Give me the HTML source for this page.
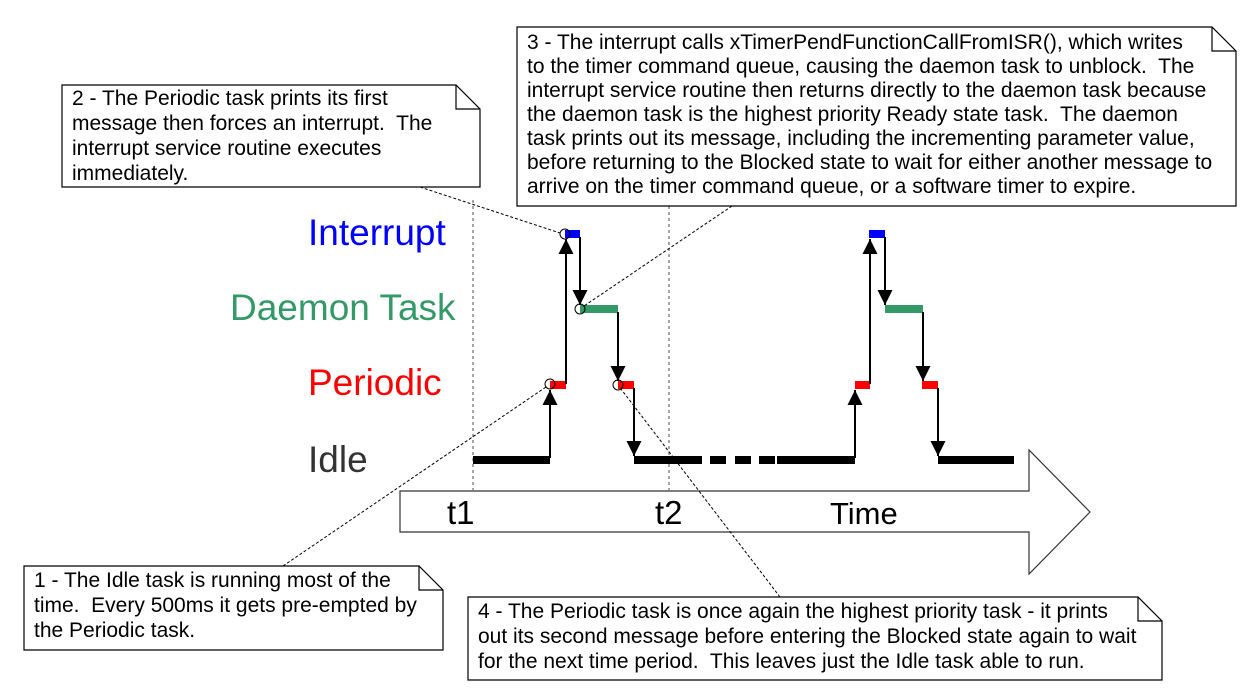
<!DOCTYPE html>
<html><head><meta charset="utf-8"><style>
html,body{margin:0;padding:0;background:#fff;}
svg{display:block;font-family:"Liberation Sans",Arial,sans-serif;}
.c{font-size:21px;fill:#000;}
</style></head><body>
<svg width="1259" height="696" viewBox="0 0 1259 696" xmlns="http://www.w3.org/2000/svg">
<defs>
<marker id="ah" viewBox="0 0 10 10" refX="10" refY="5" markerWidth="17" markerHeight="15" markerUnits="userSpaceOnUse" orient="auto">
<path d="M0,0 L10,5 L0,10 Z" fill="#000"/></marker>
</defs>
<line x1="473" y1="200" x2="473" y2="490" stroke="#888" stroke-width="1.5" stroke-dasharray="3,3"/>
<line x1="669" y1="200" x2="669" y2="490" stroke="#888" stroke-width="1.5" stroke-dasharray="3,3"/>
<path d="M400,491 L1029,491 L1029,450 L1090,512 L1029,574 L1029,532 L400,532 Z" fill="#fff" stroke="#333" stroke-width="1.2"/>
<text x="447" y="524" font-size="33">t1</text>
<text x="655" y="524" font-size="33">t2</text>
<text x="830" y="524" font-size="31">Time</text>
<text x="308" y="245" font-size="37" fill="#0000ff">Interrupt</text>
<text x="230" y="320" font-size="37" fill="#339966">Daemon Task</text>
<text x="308" y="395" font-size="37" fill="#ff0000">Periodic</text>
<text x="308" y="472" font-size="37" fill="#333">Idle</text>
<g>
<rect x="473" y="456" width="77" height="8" fill="#000"/>
<rect x="634" y="456" width="68" height="8" fill="#000"/>
<rect x="710" y="456" width="16" height="8" fill="#000"/>
<rect x="735" y="456" width="16" height="8" fill="#000"/>
<rect x="759" y="456" width="16" height="8" fill="#000"/>
<rect x="777" y="456" width="78" height="8" fill="#000"/>
<rect x="938" y="456" width="76" height="8" fill="#000"/>
<rect x="550" y="381" width="16" height="8" fill="#ff0000"/>
<rect x="618" y="381" width="16" height="8" fill="#ff0000"/>
<rect x="855" y="381" width="15" height="8" fill="#ff0000"/>
<rect x="922" y="381" width="16" height="8" fill="#ff0000"/>
<rect x="565" y="230" width="15" height="8" fill="#0000ff"/>
<rect x="869" y="230" width="16" height="8" fill="#0000ff"/>
<rect x="580" y="305" width="38" height="8" fill="#339966"/>
<rect x="885" y="305" width="38" height="8" fill="#339966"/>
</g>
<g stroke="#000" stroke-width="2" marker-end="url(#ah)">
<line x1="550" y1="458" x2="550" y2="390"/>
<line x1="566" y1="384" x2="566" y2="239"/>
<line x1="580" y1="237" x2="580" y2="305"/>
<line x1="618" y1="312" x2="618" y2="381"/>
<line x1="634" y1="388" x2="634" y2="456"/>
<line x1="855" y1="458" x2="855" y2="390"/>
<line x1="870" y1="384" x2="870" y2="239"/>
<line x1="885" y1="237" x2="885" y2="305"/>
<line x1="923" y1="312" x2="923" y2="381"/>
<line x1="938" y1="388" x2="938" y2="456"/>
</g>
<g fill="none" stroke="#000" stroke-width="1">
<circle cx="550" cy="384" r="5"/><circle cx="565" cy="234" r="5"/>
<circle cx="580" cy="309" r="5"/><circle cx="618" cy="385" r="5"/>
</g>
<g stroke="#000" stroke-width="1" stroke-dasharray="3,2">
<line x1="283" y1="566" x2="546" y2="387"/>
<line x1="420" y1="187" x2="560" y2="233"/>
<line x1="732" y1="206" x2="584" y2="306"/>
<line x1="780" y1="597" x2="621" y2="389"/>
</g>
<g fill="#fff" stroke="#000" stroke-width="1.2">
<path d="M62,85 L456,85 L480,109 L480,187 L62,187 Z"/>
<path d="M456,85 L456,109 L480,109" fill="none"/>
<path d="M517,27 L1212,27 L1236,51 L1236,206 L517,206 Z"/>
<path d="M1212,27 L1212,51 L1236,51" fill="none"/>
<path d="M24,566 L419,566 L443,590 L443,650 L24,650 Z"/>
<path d="M419,566 L419,590 L443,590" fill="none"/>
<path d="M468,597 L1138,597 L1162,621 L1162,680 L468,680 Z"/>
<path d="M1138,597 L1138,621 L1162,621" fill="none"/>
</g>
<g class="c">
<text x="72" y="105">2 - The Periodic task prints its first</text>
<text x="72" y="130">message then forces an interrupt.&#160; The</text>
<text x="72" y="155">interrupt service routine executes</text>
<text x="72" y="180">immediately.</text>
<text x="527" y="49">3 - The interrupt calls xTimerPendFunctionCallFromISR(), which writes</text>
<text x="527" y="73">to the timer command queue, causing the daemon task to unblock.&#160; The</text>
<text x="527" y="97">interrupt service routine then returns directly to the daemon task because</text>
<text x="527" y="121">the daemon task is the highest priority Ready state task.&#160; The daemon</text>
<text x="527" y="145">task prints out its message, including the incrementing parameter value,</text>
<text x="527" y="169">before returning to the Blocked state to wait for either another message to</text>
<text x="527" y="193">arrive on the timer command queue, or a software timer to expire.</text>
<text x="34" y="587">1 - The Idle task is running most of the</text>
<text x="34" y="612">time.&#160; Every 500ms it gets pre-empted by</text>
<text x="34" y="637">the Periodic task.</text>
<text x="478" y="618">4 - The Periodic task is once again the highest priority task - it prints</text>
<text x="478" y="643">out its second message before entering the Blocked state again to wait</text>
<text x="478" y="668">for the next time period.&#160; This leaves just the Idle task able to run.</text>
</g>
</svg>
</body></html>
